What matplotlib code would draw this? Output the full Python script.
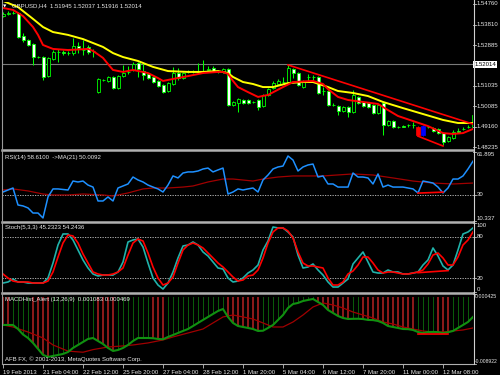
import matplotlib
matplotlib.use('Agg')
import matplotlib.pyplot as plt
from matplotlib.lines import Line2D
from matplotlib.transforms import blended_transform_factory as blend

plt.rcParams['font.family'] = ['Liberation Sans', 'DejaVu Sans']

# ---- GBPUSD H4 candles ----
opens = [1.5421, 1.5430, 1.5435, 1.5435, 1.5330, 1.5312, 1.5293, 1.5234, 1.5234, 1.5147,
         1.5225, 1.5257, 1.5257, 1.5252, 1.5252, 1.5284, 1.5266, 1.5280, 1.5262, 1.5074,
         1.5129, 1.5125, 1.5143, 1.5093, 1.5147, 1.5166, 1.5175, 1.5207, 1.5170, 1.5157,
         1.5143, 1.5125, 1.5106, 1.5079, 1.5111, 1.5161, 1.5138, 1.5166, 1.5164, 1.5166,
         1.5170, 1.5175, 1.5184, 1.5170, 1.5166, 1.5179, 1.5015, 1.5024, 1.5038, 1.5038,
         1.5029, 1.5038, 1.5011, 1.5061, 1.5093, 1.5111, 1.5120, 1.5120, 1.5179, 1.5161,
         1.5097, 1.5143, 1.5141, 1.5143, 1.5079, 1.5079, 1.5015, 1.5011, 1.4988, 1.5006,
         1.4983, 1.5052, 1.5029, 1.5024, 1.5015, 1.4979, 1.5024, 1.4924, 1.4942, 1.4915,
         1.4919, 1.4924, 1.4922, 1.4915, 1.4878, 1.4915, 1.4910, 1.4906, 1.4887, 1.4851,
         1.4864, 1.4896, 1.4906, 1.4915, 1.4915]
highs = [1.5439, 1.5444, 1.5444, 1.5439, 1.5344, 1.5316, 1.5298, 1.5239, 1.5239, 1.5234,
         1.5266, 1.5271, 1.5266, 1.5262, 1.5321, 1.5303, 1.5312, 1.5289, 1.5271, 1.5138,
         1.5134, 1.5147, 1.5147, 1.5152, 1.5198, 1.5193, 1.5211, 1.5211, 1.5207, 1.5161,
         1.5147, 1.5129, 1.5111, 1.5120, 1.5189, 1.5184, 1.5166, 1.5175, 1.5175, 1.5207,
         1.5220, 1.5193, 1.5193, 1.5175, 1.5184, 1.5184, 1.5033, 1.5047, 1.5043, 1.5043,
         1.5033, 1.5043, 1.5065, 1.5093, 1.5125, 1.5134, 1.5143, 1.5198, 1.5184, 1.5166,
         1.5129, 1.5157, 1.5152, 1.5147, 1.5097, 1.5084, 1.5024, 1.5015, 1.5011, 1.5011,
         1.5084, 1.5056, 1.5033, 1.5029, 1.5020, 1.5020, 1.5029, 1.4947, 1.4947, 1.4919,
         1.4924, 1.4928, 1.4938, 1.4919, 1.4924, 1.4919, 1.4915, 1.4910, 1.4892, 1.4873,
         1.4901, 1.4910, 1.4915, 1.4924, 1.4974]
lows = [1.5417, 1.5426, 1.5430, 1.5321, 1.5303, 1.5284, 1.5198, 1.5230, 1.5129, 1.5143,
        1.5220, 1.5211, 1.5243, 1.5243, 1.5243, 1.5252, 1.5243, 1.5248, 1.5234, 1.5070,
        1.5125, 1.5120, 1.5088, 1.5088, 1.5143, 1.5157, 1.5170, 1.5143, 1.5129, 1.5134,
        1.5115, 1.5097, 1.5070, 1.5074, 1.5106, 1.5129, 1.5134, 1.5161, 1.5161, 1.5161,
        1.5161, 1.5170, 1.5166, 1.5161, 1.5161, 1.5011, 1.5011, 1.4983, 1.5020, 1.5020,
        1.5024, 1.4992, 1.5006, 1.5056, 1.5088, 1.5106, 1.5111, 1.5115, 1.5138, 1.5102,
        1.5093, 1.5120, 1.5129, 1.5065, 1.5061, 1.5011, 1.5011, 1.4970, 1.4983, 1.4960,
        1.4979, 1.5020, 1.5006, 1.5001, 1.4974, 1.4974, 1.4878, 1.4919, 1.4910, 1.4910,
        1.4915, 1.4915, 1.4910, 1.4873, 1.4873, 1.4910, 1.4892, 1.4883, 1.4833, 1.4846,
        1.4860, 1.4887, 1.4901, 1.4910, 1.4910]
closes = [1.5430, 1.5435, 1.5433, 1.5325, 1.5312, 1.5289, 1.5234, 1.5232, 1.5143, 1.5230,
          1.5257, 1.5255, 1.5254, 1.5251, 1.5284, 1.5275, 1.5264, 1.5257, 1.5260, 1.5134,
          1.5128, 1.5143, 1.5093, 1.5147, 1.5161, 1.5164, 1.5202, 1.5179, 1.5152, 1.5138,
          1.5120, 1.5102, 1.5074, 1.5115, 1.5161, 1.5138, 1.5161, 1.5164, 1.5166, 1.5170,
          1.5169, 1.5179, 1.5170, 1.5168, 1.5179, 1.5015, 1.5029, 1.5043, 1.5024, 1.5024,
          1.5027, 1.5006, 1.5061, 1.5088, 1.5115, 1.5125, 1.5118, 1.5184, 1.5161, 1.5106,
          1.5125, 1.5141, 1.5143, 1.5070, 1.5077, 1.5015, 1.5013, 1.4988, 1.5006, 1.4983,
          1.5061, 1.5024, 1.5011, 1.5006, 1.4979, 1.5015, 1.4924, 1.4942, 1.4915, 1.4913,
          1.4917, 1.4922, 1.4924, 1.4878, 1.4919, 1.4913, 1.4896, 1.4887, 1.4846, 1.4869,
          1.4892, 1.4894, 1.4904, 1.4913, 1.4970]
marked_bars = {83: 'red', 84: 'blue'}

# moving averages on price (sampled along the curves)
yellow_idx = [0, 3, 4, 6, 8, 10, 13, 16, 18, 20, 22, 24, 27, 30, 33, 37, 40, 43, 45, 46,
              48, 50, 52, 54, 57, 60, 62, 65, 67, 70, 73, 76, 80, 84, 88, 91, 94]
yellow_val = [1.5490, 1.5462, 1.5444, 1.5408, 1.5371, 1.5348, 1.5335, 1.5316, 1.5298, 1.5280,
              1.5252, 1.5234, 1.5216, 1.5189, 1.5170, 1.5166, 1.5166, 1.5170, 1.5161, 1.5143,
              1.5120, 1.5111, 1.5097, 1.5097, 1.5115, 1.5120, 1.5120, 1.5097, 1.5079, 1.5070,
              1.5056, 1.5029, 1.5001, 1.4974, 1.4947, 1.4933, 1.4933]
red_idx = [0, 2, 4, 6, 7, 8, 10, 13, 17, 18, 20, 21, 22, 24, 26, 29, 31, 32, 34, 37,
           40, 43, 44, 45, 46, 47, 49, 51, 53, 56, 58, 62, 64, 65, 67, 69, 72, 75, 77, 79,
           82, 85, 88, 90, 92, 94]
red_val = [1.5458, 1.5449, 1.5421, 1.5371, 1.5335, 1.5289, 1.5271, 1.5266, 1.5271, 1.5262,
           1.5230, 1.5202, 1.5175, 1.5166, 1.5175, 1.5161, 1.5138, 1.5125, 1.5134, 1.5147,
           1.5161, 1.5166, 1.5166, 1.5157, 1.5125, 1.5097, 1.5074, 1.5052, 1.5061, 1.5097,
           1.5120, 1.5125, 1.5111, 1.5088, 1.5052, 1.5038, 1.5029, 1.5020, 1.4992, 1.4965,
           1.4942, 1.4919, 1.4887, 1.4883, 1.4887, 1.4906]

# RSI(14) and its MA(21)
rsi = [32.0, 33.5, 35.0, 22.3, 21.6, 20.1, 16.3, 16.3, 12.6, 28.3,
       34.3, 34.3, 33.9, 33.5, 40.2, 39.5, 40.2, 37.2, 35.7, 25.3,
       25.3, 28.3, 25.3, 35.0, 36.5, 38.0, 43.2, 41.0, 39.5, 37.2,
       35.7, 34.3, 32.0, 37.2, 44.0, 42.5, 46.2, 47.0, 47.0, 47.7,
       49.2, 49.9, 47.0, 48.5, 49.9, 30.5, 32.0, 34.3, 33.5, 34.3,
       35.0, 32.0, 41.0, 44.7, 49.2, 50.7, 51.4, 58.9, 55.9, 47.7,
       50.7, 52.2, 52.9, 43.2, 44.0, 38.0, 38.0, 35.7, 35.7, 35.7,
       46.2, 43.2, 43.2, 42.5, 38.0, 45.5, 35.7, 37.2, 35.7, 35.7,
       35.7, 35.0, 34.3, 31.3, 40.2, 39.5, 38.7, 35.7, 31.3, 35.0,
       41.7, 41.7, 44.0, 49.2, 55.0]
rsi_ma_idx = [0, 2, 5, 8, 10, 13, 16, 20, 22, 25, 28, 30, 33, 36, 38, 41, 44, 46, 50, 52,
              55, 58, 62, 64, 70, 74, 78, 82, 86, 90, 94]
rsi_ma_val = [33.5, 34.3, 32.8, 30.5, 29.8, 29.8, 30.5, 29.8, 29.0, 31.3, 34.3, 35.0, 35.0,
              35.7, 36.5, 39.5, 41.7, 41.7, 40.2, 41.7, 43.2, 44.0, 44.0, 44.0, 45.5, 44.7,
              42.5, 40.2, 38.7, 38.0, 38.7]

# Stochastic(5,3,3)
stoch_k = [13.0, 14.5, 18.8, 14.5, 14.5, 13.0, 13.0, 13.0, 13.0, 20.3,
           42.0, 68.1, 84.1, 84.1, 75.4, 60.9, 46.4, 34.8, 26.1, 23.2,
           24.6, 24.6, 24.6, 29.0, 43.5, 72.5, 75.4, 76.8, 65.2, 42.0,
           20.3, 10.1, 4.3, 13.0, 29.0, 49.3, 66.7, 68.1, 72.5, 68.1,
           58.0, 52.2, 43.5, 34.8, 33.3, 20.3, 14.5, 15.9, 20.3, 27.5,
           31.9, 39.1, 60.9, 73.9, 94.2, 92.8, 92.8, 87.0, 79.7, 53.6,
           34.8, 36.2, 40.6, 31.9, 24.6, 14.5, 7.2, 7.2, 13.0, 18.8,
           40.6, 49.3, 58.0, 43.5, 29.0, 27.5, 27.5, 31.9, 29.0, 29.0,
           26.1, 26.1, 27.5, 29.0, 39.1, 46.4, 63.8, 52.2, 37.7, 31.9,
           39.1, 60.9, 84.1, 87.0, 92.8]
stoch_d = [26.1, 20.3, 15.9, 14.5, 14.5, 14.5, 13.0, 13.0, 13.0, 15.9,
           29.0, 50.7, 71.0, 82.6, 81.2, 71.0, 55.1, 42.0, 29.0, 26.1,
           24.6, 24.6, 26.1, 29.0, 34.8, 53.6, 71.0, 76.8, 73.9, 56.5,
           36.2, 20.3, 10.1, 13.0, 21.7, 42.0, 60.9, 68.1, 71.0, 68.1,
           63.8, 56.5, 49.3, 42.0, 36.2, 29.0, 21.7, 15.9, 17.4, 23.2,
           24.6, 31.9, 49.3, 71.0, 87.0, 92.8, 92.8, 88.4, 78.3, 58.0,
           42.0, 37.7, 37.7, 36.2, 34.8, 20.3, 10.1, 10.1, 14.5, 26.1,
           30.4, 39.1, 50.7, 50.7, 42.0, 31.9, 27.5, 29.0, 29.0, 27.5,
           26.1, 26.1, 27.5, 29.0, 31.9, 40.6, 53.6, 56.5, 49.3, 39.1,
           39.1, 50.7, 68.1, 75.4, 87.0]

# MACD(12,26,9) histogram / line and signal
macd = [-0.00371, -0.00371, -0.00371, -0.00425, -0.00498, -0.00545, -0.00611, -0.00690, -0.00770, -0.00798,
        -0.00785, -0.00772, -0.00758, -0.00732, -0.00678, -0.00638, -0.00598, -0.00558, -0.00545, -0.00585,
        -0.00625, -0.00678, -0.00718, -0.00705, -0.00678, -0.00638, -0.00585, -0.00545, -0.00545, -0.00545,
        -0.00548, -0.00558, -0.00562, -0.00531, -0.00505, -0.00478, -0.00451, -0.00425, -0.00385, -0.00344,
        -0.00304, -0.00264, -0.00224, -0.00184, -0.00158, -0.00264, -0.00344, -0.00385, -0.00398, -0.00411,
        -0.00425, -0.00451, -0.00448, -0.00411, -0.00371, -0.00304, -0.00238, -0.00144, -0.00091, -0.00077,
        -0.00051, -0.00037, -0.00024, -0.00064, -0.00104, -0.00171, -0.00211, -0.00251, -0.00278, -0.00291,
        -0.00289, -0.00288, -0.00292, -0.00304, -0.00306, -0.00318, -0.00344, -0.00385, -0.00398, -0.00411,
        -0.00425, -0.00427, -0.00438, -0.00465, -0.00478, -0.00465, -0.00464, -0.00466, -0.00478, -0.00468,
        -0.00451, -0.00411, -0.00371, -0.00331, -0.00264]
hist_state = list("rrggggrrrr" "gggggggggr" "rrrggggggg" "rrrggggggg" "gggggrrrrr"
                  "rrgggggggg" "gggrrrrrrr" "ggrrrrrrrr" "rrrggggrrr" "ggggg")
signal_idx = [0, 2, 5, 8, 10, 13, 16, 18, 21, 24, 26, 29, 32, 34, 37, 40, 42, 44, 46, 48,
              50, 52, 54, 56, 58, 60, 62, 64, 66, 68, 70, 72, 74, 76, 78, 80, 82, 84, 86, 88,
              90, 92, 94]
signal_val = [-0.00371, -0.00398, -0.00465, -0.00545, -0.00638, -0.00720, -0.00735, -0.00700, -0.00665, -0.00651,
              -0.00638, -0.00611, -0.00571, -0.00531, -0.00478, -0.00425, -0.00344, -0.00264, -0.00238, -0.00264,
              -0.00291, -0.00344, -0.00398, -0.00398, -0.00331, -0.00238, -0.00131, -0.00077, -0.00104, -0.00144,
              -0.00198, -0.00238, -0.00278, -0.00331, -0.00358, -0.00398, -0.00425, -0.00451, -0.00465, -0.00465,
              -0.00451, -0.00438, -0.00411]

# divergence lines drawn by the indicator
trend_main_hi = ([57, 94], [1.5198, 1.4928])
trend_main_lo = ([83, 88], [1.4873, 1.4828])
trend_rsi = ([83, 88], [31.2, 31.9])
trend_stoch = ([83, 89], [28.0, 31.0])
trend_macd = ([83, 89], [-0.00491, -0.00491])

# axis texts
price_ticks = [1.54760, 1.53810, 1.52885, 1.51035, 1.50085, 1.49160, 1.48235]
current_price = 1.52014
x_tick_idx = [0, 8, 16, 24, 32, 40, 48, 56, 64, 72, 80, 88]
x_tick_labels = ['19 Feb 2013', '21 Feb 04:00', '22 Feb 12:00', '25 Feb 20:00', '27 Feb 04:00',
                 '28 Feb 12:00', '1 Mar 20:00', '5 Mar 04:00', '6 Mar 12:00', '7 Mar 20:00',
                 '11 Mar 00:00', '12 Mar 08:00']

W, H = 500, 375
FS = 4.3
TXT = '#e8e8e8'
GREEN = '#00ff00'

fig = plt.figure(figsize=(5, 3.75), dpi=100, facecolor='black')


def panel(top, bottom, ylim):
    ax = fig.add_axes([2 / W, 1 - bottom / H, 471 / W, (bottom - top) / H])
    ax.set_facecolor('black')
    for s in ax.spines.values():
        s.set_visible(False)
    ax.set_xticks([])
    ax.set_yticks([])
    ax.set_xlim(-0.2, 94.0)
    ax.set_ylim(*ylim)
    return ax


def right_label(ax, val, s, va='center', fs=FS, dx=3.5):
    tr = blend(ax.transAxes, ax.transData)
    ax.text(1 + dx / 471, val, s, transform=tr, color=TXT, fontsize=fs,
            va=va, ha='left', clip_on=False)
    ax.plot([1, 1 + 2.5 / 471], [val, val], transform=tr, color='#c0c0c0',
            lw=0.6, clip_on=False)


def fig_line(xs, ys, color, lw):
    fig.add_artist(Line2D([x / W for x in xs], [1 - y / H for y in ys], color=color, lw=lw))


# ---- main price panel ----
ax = panel(2, 149, (1.48144, 1.54851))
ax.axhline(current_price, color='#7a7a7a', lw=0.8, zorder=1)
n = len(closes)
for i in range(n):
    c = marked_bars.get(i)
    ax.vlines(i, lows[i], highs[i], color=c or GREEN, lw=0.75, zorder=2)
for i in range(n):
    lo, hi = min(opens[i], closes[i]), max(opens[i], closes[i])
    h = max(hi - lo, 0.00006)
    if i in marked_bars:
        col = marked_bars[i]
        ax.bar(i, h, bottom=lo, width=0.8, color=col, edgecolor=col, lw=0.5, zorder=3)
    else:
        fill = 'black' if closes[i] >= opens[i] else 'white'
        ax.bar(i, h, bottom=lo, width=0.6, color=fill, edgecolor=GREEN, lw=0.6, zorder=3)
ax.plot(yellow_idx, yellow_val, color='#ffff00', lw=1.4, zorder=4)
ax.plot(red_idx, red_val, color='#ff0000', lw=1.4, zorder=4)
ax.plot(*trend_main_hi, color='#ff0000', lw=1.2, zorder=5)
ax.plot(*trend_main_lo, color='#ff0000', lw=1.2, zorder=5)
for p in price_ticks:
    right_label(ax, p, '%.5f' % p)
ax.text(1 + 1.5 / 471, current_price, '%.5f' % current_price,
        transform=blend(ax.transAxes, ax.transData), color='black', fontsize=FS,
        va='center', ha='left', clip_on=False,
        bbox=dict(facecolor='white', edgecolor='none', pad=0.8))

# ---- RSI panel ----
ax_r = panel(152, 221, (10.337, 61.895))
ax_r.axhline(30, color='#c8c8c8', lw=0.6, ls=(0, (1.5, 1.5)))
ax_r.plot(rsi_ma_idx, rsi_ma_val, color='#a00000', lw=0.9)
ax_r.plot(range(n), rsi, color='#1e90ff', lw=1.1)
ax_r.plot(*trend_rsi, color='#ff0000', lw=1.2)
right_label(ax_r, 61.895, '61.895', va='top')
right_label(ax_r, 30, '30')
right_label(ax_r, 10.337, '10.337', va='bottom')

# ---- Stochastic panel ----
ax_s = panel(223, 292, (0, 100))
for lvl in (80, 20):
    ax_s.axhline(lvl, color='#c8c8c8', lw=0.6, ls=(0, (1.5, 1.5)))
ax_s.plot(range(n), stoch_k, color='#20b2aa', lw=1.2)
ax_s.plot(range(n), stoch_d, color='#ff0000', lw=1.2)
ax_s.plot(*trend_stoch, color='#ff0000', lw=1.2)
right_label(ax_s, 100, '100', va='top')
right_label(ax_s, 80, '80')
right_label(ax_s, 20, '20')
right_label(ax_s, 0, '0', va='bottom')

# ---- MACD panel ----
ax_m = panel(294, 364, (-0.008922, 0.000425))
for i in range(n):
    if hist_state[i] == 'r':
        ax_m.bar(i, macd[i], width=0.42, color='#8b1a1a', lw=0)
    else:
        ax_m.bar(i, macd[i], width=0.2, color='#0a5a0a', lw=0)
ax_m.plot(signal_idx, signal_val, color='#a00000', lw=0.9)
ax_m.plot(range(n), macd, color='#109010', lw=1.5)
ax_m.plot(*trend_macd, color='#ff0000', lw=1.2)
right_label(ax_m, 0.000425, '0.000425', va='top', fs=3.8, dx=2)
right_label(ax_m, -0.008922, '-0.008922', va='bottom', fs=3.6, dx=1.5)
ax_m.set_xticks(x_tick_idx)
ax_m.set_xticklabels(x_tick_labels)
for lab in ax_m.get_xticklabels():
    lab.set_ha('left')
ax_m.tick_params(axis='x', direction='out', length=3, width=0.6, color='#c0c0c0',
                 labelcolor=TXT, labelsize=FS, pad=1)

# ---- frame: separators, borders, axis line ----
for y in (150, 222, 293):
    fig_line([2, 473], [y, y], '#b0b0b0', 1.8)
fig_line([2, 473], [364, 364], '#b0b0b0', 0.8)
fig_line([2, 2], [0, 364], '#9a9a9a', 0.8)
fig_line([473.5, 473.5], [0, 364], '#d0d0d0', 0.8)

# ---- header texts ----
fig.text(5 / W, 1 - 6 / H, '\u25bc', color='white', fontsize=3.2, va='center', ha='center',
         family='DejaVu Sans')
fig.text(12 / W, 1 - 6 / H, 'GBPUSD,H4  1.51945 1.52037 1.51916 1.52014', color=TXT,
         fontsize=FS, va='center', ha='left')
fig.text(5 / W, 1 - 157.5 / H, 'RSI(14) 58.6100  ->MA(21) 50.0092', color=TXT,
         fontsize=FS, va='center', ha='left')
fig.text(5 / W, 1 - 228 / H, 'Stoch(5,3,3) 45.2323 54.2436', color=TXT,
         fontsize=FS, va='center', ha='left')
fig.text(5 / W, 1 - 300 / H, 'MACDHist_Alert (12,26,9)  0.001083 0.000469', color=TXT,
         fontsize=FS, va='center', ha='left')
fig.text(5 / W, 1 - 359 / H, 'AFB FX, \u00a9 2001-2013, MetaQuotes Software Corp.', color=TXT,
         fontsize=FS, va='center', ha='left')

fig.savefig('out.png', dpi=100, facecolor='black')
